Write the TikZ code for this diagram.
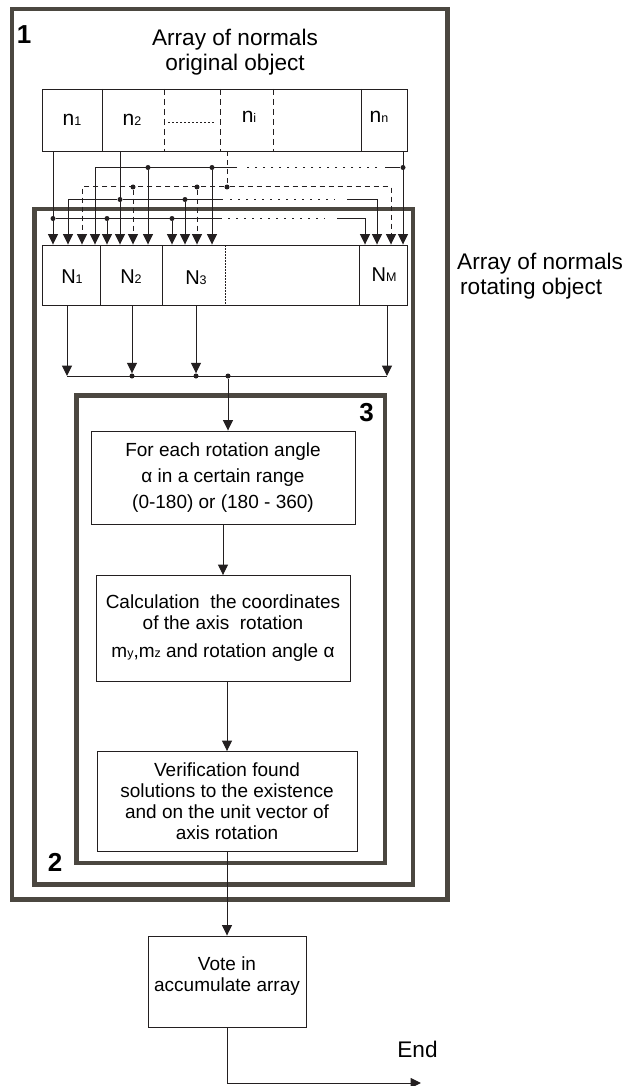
\documentclass[tikz,border=0pt]{standalone}
\usepackage{fontspec}
\setmainfont{Liberation Sans}
\usetikzlibrary{arrows.meta,calc,positioning}
\definecolor{FrameGrey}{HTML}{4B4740}
\definecolor{Ink}{HTML}{231F20}
% small index digits/letters sitting on the baseline
\newcommand\nidx[1]{{\fontsize{12.5}{12.5}\selectfont #1}}

\begin{document}
\begin{tikzpicture}[
    x=1pt,y=-1pt,
    font=\fontsize{19}{21}\selectfont,
    frame/.style={draw=FrameGrey,line width=4.5pt,inner sep=0},
    stepbox/.style={draw=Ink,line width=0.9pt,align=center,inner sep=0},
    title/.style={font=\fontsize{22.6}{24.5}\selectfont,align=center,inner sep=0},
    num/.style={font=\fontsize{26}{26}\selectfont\bfseries,inner sep=0},
    lbl/.style={font=\fontsize{21}{21}\selectfont,inner sep=0},
    wire/.style={draw=Ink,line width=1pt},
    arr/.style={wire,-{Triangle[length=10.5pt,width=10pt]}},
    dotwire/.style={wire,dash pattern=on 2pt off 6pt},
    dashwire/.style={wire,dash pattern=on 5pt off 4pt},
    jn/.style={circle,fill=Ink,inner sep=0,minimum size=5pt}
  ]
  \useasboundingbox (0,0) rectangle (624,1086);

  % nested blocks 1, 2, 3
  \node[frame,minimum width=435.5,minimum height=890.5] (blk1) at (229.75,454.25) {};
  \node[frame,minimum width=378.5,minimum height=675.5] (blk2) at (223.75,546.75) {};
  \node[frame,minimum width=308.5,minimum height=467.5] (blk3) at (230.75,629.25) {};
  \node[num] (num1) at (24,35) {1};
  \node[num] (num2) at (55,862) {2};
  \node[num] (num3) at (366.5,412.5) {3};

  \node[title] (ttlorig) at (235,52) {Array of normals\\original object};
  \node[title,align=left,anchor=west] (ttlrot) at (457,276) {Array of normals\\\hspace{3pt}rotating object};

  % array of the original object
  \node[stepbox,minimum width=365,minimum height=62] (orig) at (224.5,120) {};
  \foreach \x in {102,361} \draw[wire,line width=0.9pt] (\x,89) -- (\x,151);
  \foreach \x in {164,220,273} \draw[wire,line width=0.9pt,dash pattern=on 6pt off 4pt] (\x,89) -- (\x,151);
  \draw[wire,dash pattern=on 1.5pt off 2.5pt] (168,123) -- (215,123);
  \node[lbl] (n1) at (72,120) {n\nidx{1}};
  \node[lbl] (n2) at (132,120) {n\nidx{2}};
  \node[lbl] (ni) at (249,117) {n\nidx{i}};
  \node[lbl] (nn) at (379,117) {n\nidx{n}};

  % array of the rotating object
  \node[stepbox,minimum width=365,minimum height=60] (rot) at (224.5,275) {};
  \foreach \x in {100,162,359} \draw[wire,line width=0.9pt] (\x,245) -- (\x,305);
  \draw[wire,dash pattern=on 1.5pt off 1.5pt] (225,245) -- (225,305);
  \node[lbl,font=\fontsize{20}{20}\selectfont] (N1) at (72,277) {N\nidx{1}};
  \node[lbl,font=\fontsize{20}{20}\selectfont] (N2) at (131,277) {N\nidx{2}};
  \node[lbl,font=\fontsize{20}{20}\selectfont] (N3) at (196,278) {N\nidx{3}};
  \node[lbl,font=\fontsize{20}{20}\selectfont] (NM) at (384,275) {N\nidx{M}};

  % junctions and corners of the four feeds
  \foreach \n/\x in {d1/403,d2/148,d3/212} \node[jn] (\n) at (\x,167.5) {};
  \foreach \n/\x in {c1/227,c2/133,c3/197} \node[jn] (\n) at (\x,187) {};
  \foreach \n/\x in {b1/120,b2/185} \node[jn] (\n) at (\x,199.5) {};
  \foreach \n/\x in {a1/53,a2/107,a3/172} \node[jn] (\n) at (\x,218.5) {};
  \coordinate (d0) at (95,167.5);
  \coordinate (c0) at (82,187);
  \coordinate (c4) at (391,187);
  \coordinate (b0) at (68,199.5);
  \coordinate (b3) at (377,199.5);
  \coordinate (a4) at (365,218.5);

  % n_n feed
  \draw[arr] (orig.south -| d1) -- (rot.north -| d1);
  \draw[wire] (d1) -- (385,167.5);
  \draw[dotwire] (377,167.5) -- (242,167.5);
  \draw[arr] (237,167.5) -- (d0) -- (rot.north -| d0);
  \foreach \n in {d2,d3} \draw[arr] (\n) -- (rot.north -| \n);
  % n_i feed
  \draw[dashwire] (orig.south -| c1) -- (c1);
  \draw[dashwire,arr] (c1) -- (c0) -- (rot.north -| c0);
  \draw[dashwire,arr] (c1) -- (c4) -- (rot.north -| c4);
  \foreach \n in {c2,c3} \draw[dashwire,arr] (\n) -- (rot.north -| \n);
  % n_2 feed
  \draw[arr] (orig.south -| b1) -- (rot.north -| b1);
  \draw[arr] (b1) -- (b0) -- (rot.north -| b0);
  \draw[wire] (b1) -- (223,199.5);
  \draw[dotwire] (230,199.5) -- (335,199.5);
  \draw[arr] (347,199.5) -- (b3) -- (rot.north -| b3);
  \draw[arr] (b2) -- (rot.north -| b2);
  % n_1 feed
  \draw[arr] (orig.south -| a1) -- (rot.north -| a1);
  \draw[wire] (a1) -- (222,218.5);
  \draw[dotwire] (228,218.5) -- (325,218.5);
  \draw[arr] (337,218.5) -- (a4) -- (rot.north -| a4);
  \foreach \n in {a2,a3} \draw[arr] (\n) -- (rot.north -| \n);

  % collecting bus under the rotating array
  \coordinate (e1) at (67,376);
  \coordinate (e4) at (387,376);
  \node[jn] (e2) at (132,376) {};
  \node[jn] (e3) at (196,376) {};
  \node[jn] (e5) at (228,376) {};
  \draw[wire] (e1) -- (e4);
  \foreach \n in {e1,e2,e3,e4} \draw[arr] (rot.south -| \n) -- (\n);

  % processing steps
  \node[stepbox,minimum width=264,minimum height=93,font=\fontsize{19}{26}\selectfont] (each) at (223,477.5)
    {For each rotation angle\\α in a certain range\\(0-180) or (180 - 360)};
  \node[stepbox,minimum width=254,minimum height=106] (calc) at (223,628.5)
    {Calculation\ \ the coordinates\\of the axis\ \ rotation\\[7pt]m\nidx{y},m\nidx{z} and rotation angle α};
  \node[stepbox,minimum width=260,minimum height=100] (verif) at (227,801.5)
    {Verification found\\solutions to the existence\\and on the unit vector of\\axis rotation};
  \node[stepbox,minimum width=158,minimum height=91] (vote) at (227,981.5)
    {Vote in\\accumulate array\\[-6pt]\mbox{}};
  \coordinate (endpt) at (421,1083);
  \node[title] (endlbl) at (417.5,1049) {End};

  \draw[arr] (e5) -- (each.north -| e5);
  \draw[arr] (each) -- (calc);
  \draw[arr] (calc.south -| verif) -- (verif);
  \draw[arr] (verif) -- (vote);
  \draw[arr] (vote) |- (endpt);
\end{tikzpicture}
\end{document}
